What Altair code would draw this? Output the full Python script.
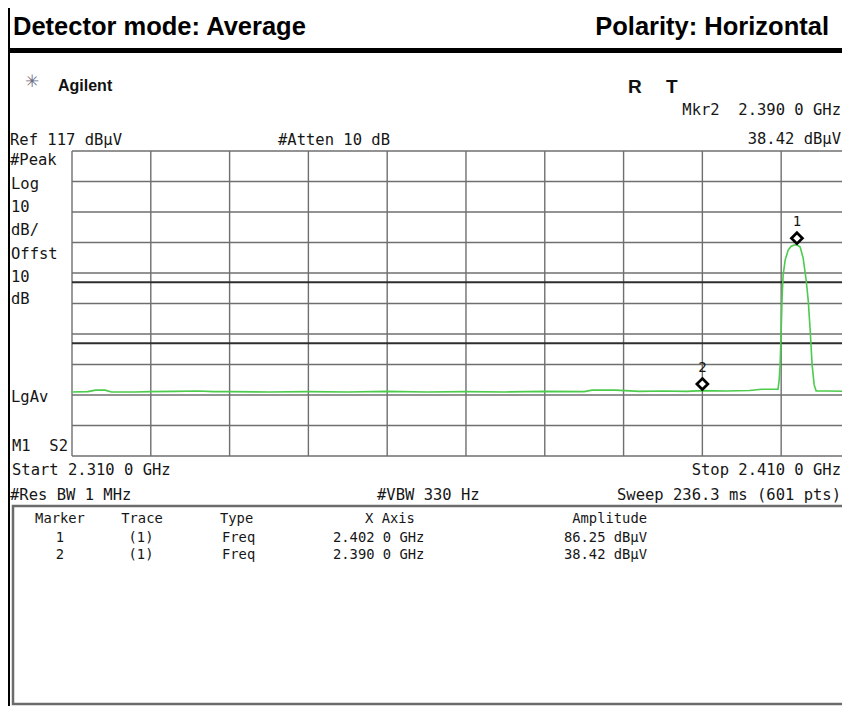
import altair as alt
import pandas as pd

# ---------------- data ----------------
trace_freq = [2.3100, 2.3120, 2.3130, 2.3142, 2.3150, 2.3180, 2.3200, 2.3230, 2.3260, 2.3280,
              2.3300, 2.3350, 2.3400, 2.3450, 2.3500, 2.3550, 2.3600, 2.3650, 2.3700, 2.3750,
              2.3760, 2.3790, 2.3820, 2.3850, 2.3880, 2.3900, 2.3930, 2.3960, 2.3975, 2.3990,
              2.39960, 2.39975, 2.39987, 2.40000, 2.40013, 2.40025, 2.40051, 2.40089, 2.40127,
              2.40165, 2.40200, 2.40241, 2.40279, 2.40317, 2.40343, 2.40368, 2.40393, 2.40419,
              2.40444, 2.4060, 2.4080, 2.4090]
trace_level = [38.0, 38.1, 38.6, 38.6, 38.0, 38.0, 38.1, 38.2, 38.3, 38.1,
               38.1, 38.0, 38.1, 38.0, 38.2, 38.0, 38.1, 38.0, 38.2, 38.1,
               38.6, 38.6, 38.2, 38.3, 38.2, 38.42, 38.3, 38.5, 38.9, 38.9,
               38.9, 42.0, 47.0, 58.3, 69.8, 76.3, 81.3, 84.5, 85.8,
               86.2, 86.25, 85.5, 81.9, 74.7, 68.1, 58.3, 46.8, 40.3,
               38.3, 38.3, 38.2, 38.3]

v_grid = [2.310, 2.320, 2.330, 2.340, 2.350, 2.360, 2.370, 2.380, 2.390, 2.400]
h_grid = [117, 107, 97, 87, 77, 67, 57, 47, 37, 27, 17]
display_lines = [74, 54]

mkr_id = ["1", "2"]
mkr_freq = [2.402, 2.390]
mkr_amp = [86.25, 38.42]

x_domain = [2.310, 2.40772]
y_domain = [17, 117]

# ---------------- layout helpers ----------------
OX, OY = 72, 151          # page position of the plot area's top-left corner
RIGHT = 842               # page position of the canvas' right edge
MONO = "DejaVu Sans Mono"
SANS = "Liberation Sans, Arial, sans-serif"
NB = "\u00a0"
one = pd.DataFrame({"k": [0]})

xs = alt.Scale(domain=x_domain, nice=False, zero=False)
ys = alt.Scale(domain=y_domain, nice=False, zero=False)


def label(txt, px, py, size=15.5, font=MONO, weight="normal", align="left", color="#161616"):
    return alt.Chart(one).mark_text(
        text=txt, font=font, fontSize=size, fontWeight=weight, align=align,
        baseline="alphabetic", color=color
    ).encode(x=alt.value(px - OX), y=alt.value(py - OY))


def hline(py, px1, px2, width, color):
    return alt.Chart(one).mark_rule(color=color, strokeWidth=width).encode(
        x=alt.value(px1 - OX), x2=alt.value(px2 - OX), y=alt.value(py - OY))


def vline(px, py1, py2, width, color):
    return alt.Chart(one).mark_rule(color=color, strokeWidth=width).encode(
        x=alt.value(px - OX), y=alt.value(py1 - OY), y2=alt.value(py2 - OY))


trace_df = pd.DataFrame({"f": trace_freq, "a": trace_level})
vg_df = pd.DataFrame({"f": v_grid})
hg_df = pd.DataFrame({"a": h_grid})
dl_df = pd.DataFrame({"a": display_lines})
mk_df = pd.DataFrame({"id": mkr_id, "f": mkr_freq, "a": mkr_amp})

vgrid = alt.Chart(vg_df).mark_rule(color="#6f6f6f", strokeWidth=1.4).encode(
    x=alt.X("f:Q", scale=xs, axis=None))
hgrid = alt.Chart(hg_df).mark_rule(color="#6f6f6f", strokeWidth=1.4).encode(
    y=alt.Y("a:Q", scale=ys, axis=None))
dlines = alt.Chart(dl_df).mark_rule(color="#2e2e2e", strokeWidth=2).encode(
    y=alt.Y("a:Q", scale=ys, axis=None))

trace = alt.Chart(trace_df).mark_line(color="#4ccb4c", strokeWidth=1.6, clip=True).encode(
    x=alt.X("f:Q", scale=xs, axis=None),
    y=alt.Y("a:Q", scale=ys, axis=None))

diamond = "M0,-2.2L1,-1.2L0,-0.2L-1,-1.2Z"
markers = alt.Chart(mk_df).mark_point(
    shape=diamond, size=121, filled=True, fill="white", stroke="black",
    strokeWidth=2.7, opacity=1).encode(
    x=alt.X("f:Q", scale=xs, axis=None),
    y=alt.Y("a:Q", scale=ys, axis=None))
marker_text = alt.Chart(mk_df).mark_text(
    font=MONO, fontSize=14, dy=-23, color="#161616").encode(
    x=alt.X("f:Q", scale=xs, axis=None),
    y=alt.Y("a:Q", scale=ys, axis=None),
    text="id:N")

box = alt.Chart(one).mark_rect(fill="white", stroke="#6b6b6b", strokeWidth=2.5).encode(
    x=alt.value(13 - OX), x2=alt.value(900 - OX), y=alt.value(506 - OY), y2=alt.value(704 - OY))

layers = [
    # frame decorations
    vline(9, 8, 706, 2, "black"),
    hline(50.5, 8, 900, 5, "black"),
    box,
    # header
    label("Detector mode: Average", 13, 35, size=25.5, font=SANS, weight="bold", color="black"),
    label("Polarity: Horizontal", 829, 35, size=25.5, font=SANS, weight="bold", align="right", color="black"),
    label("\u2733", 32, 87, size=17, font="DejaVu Sans", align="center", color="#6a6a80"),
    label("Agilent", 58, 91, size=16, font=SANS, weight="bold", color="#111"),
    label("R", 628, 93, size=19, font=SANS, weight="bold", color="#111"),
    label("T", 666, 93, size=19, font=SANS, weight="bold", color="#111"),
    label("Mkr2" + NB + NB + "2.390 0 GHz", RIGHT - 1, 115, align="right"),
    label("38.42 dB\u00b5V", RIGHT - 1, 144, align="right"),
    label("Ref 117 dB\u00b5V", 10, 145),
    label("#Atten 10 dB", 278, 145),
    # left annotations
    label("#Peak", 10, 165),
    label("Log", 11, 188.5),
    label("10", 11, 212),
    label("dB/", 11, 235),
    label("Offst", 11, 258.5),
    label("10", 11, 282),
    label("dB", 11, 304),
    label("LgAv", 11, 402),
    label("M1" + NB + NB + "S2", 12, 451),
    # bottom annotations
    label("Start 2.310 0 GHz", 12, 475),
    label("Stop 2.410 0 GHz", RIGHT - 1, 475, align="right"),
    label("#Res BW 1 MHz", 10, 500),
    label("#VBW 330 Hz", 377, 500),
    label("Sweep 236.3 ms (601 pts)", RIGHT - 1, 500, align="right"),
    # plot
    vgrid, hgrid, dlines, trace, markers, marker_text,
]

# marker table
TS = 13.8
layers += [
    label("Marker", 60, 523, size=TS, align="center"),
    label("Trace", 142, 523, size=TS, align="center"),
    label("Type", 220, 523, size=TS),
    label("X Axis", 390, 523, size=TS, align="center"),
    label("Amplitude", 647, 523, size=TS, align="right"),
]
row_y = [542, 559]
for i in range(len(mkr_id)):
    layers += [
        label(mkr_id[i], 60, row_y[i], size=TS, align="center"),
        label("(1)", 141, row_y[i], size=TS, align="center"),
        label("Freq", 222, row_y[i], size=TS),
        label(f"{mkr_freq[i]:.3f} 0 GHz", 333, row_y[i], size=TS),
        label(f"{mkr_amp[i]:.2f} dB\u00b5V", 647, row_y[i], size=TS, align="right"),
    ]

chart = alt.layer(*layers).properties(
    width=RIGHT - OX,
    height=456 - OY,
    padding={"left": OX - 8, "top": OY - 8, "right": 0, "bottom": 706 - 456},
    autosize=alt.AutoSizeParams(type="none"),
).configure_view(stroke=None)

chart.save("out.html", embed_options={"renderer": "svg", "actions": False})
